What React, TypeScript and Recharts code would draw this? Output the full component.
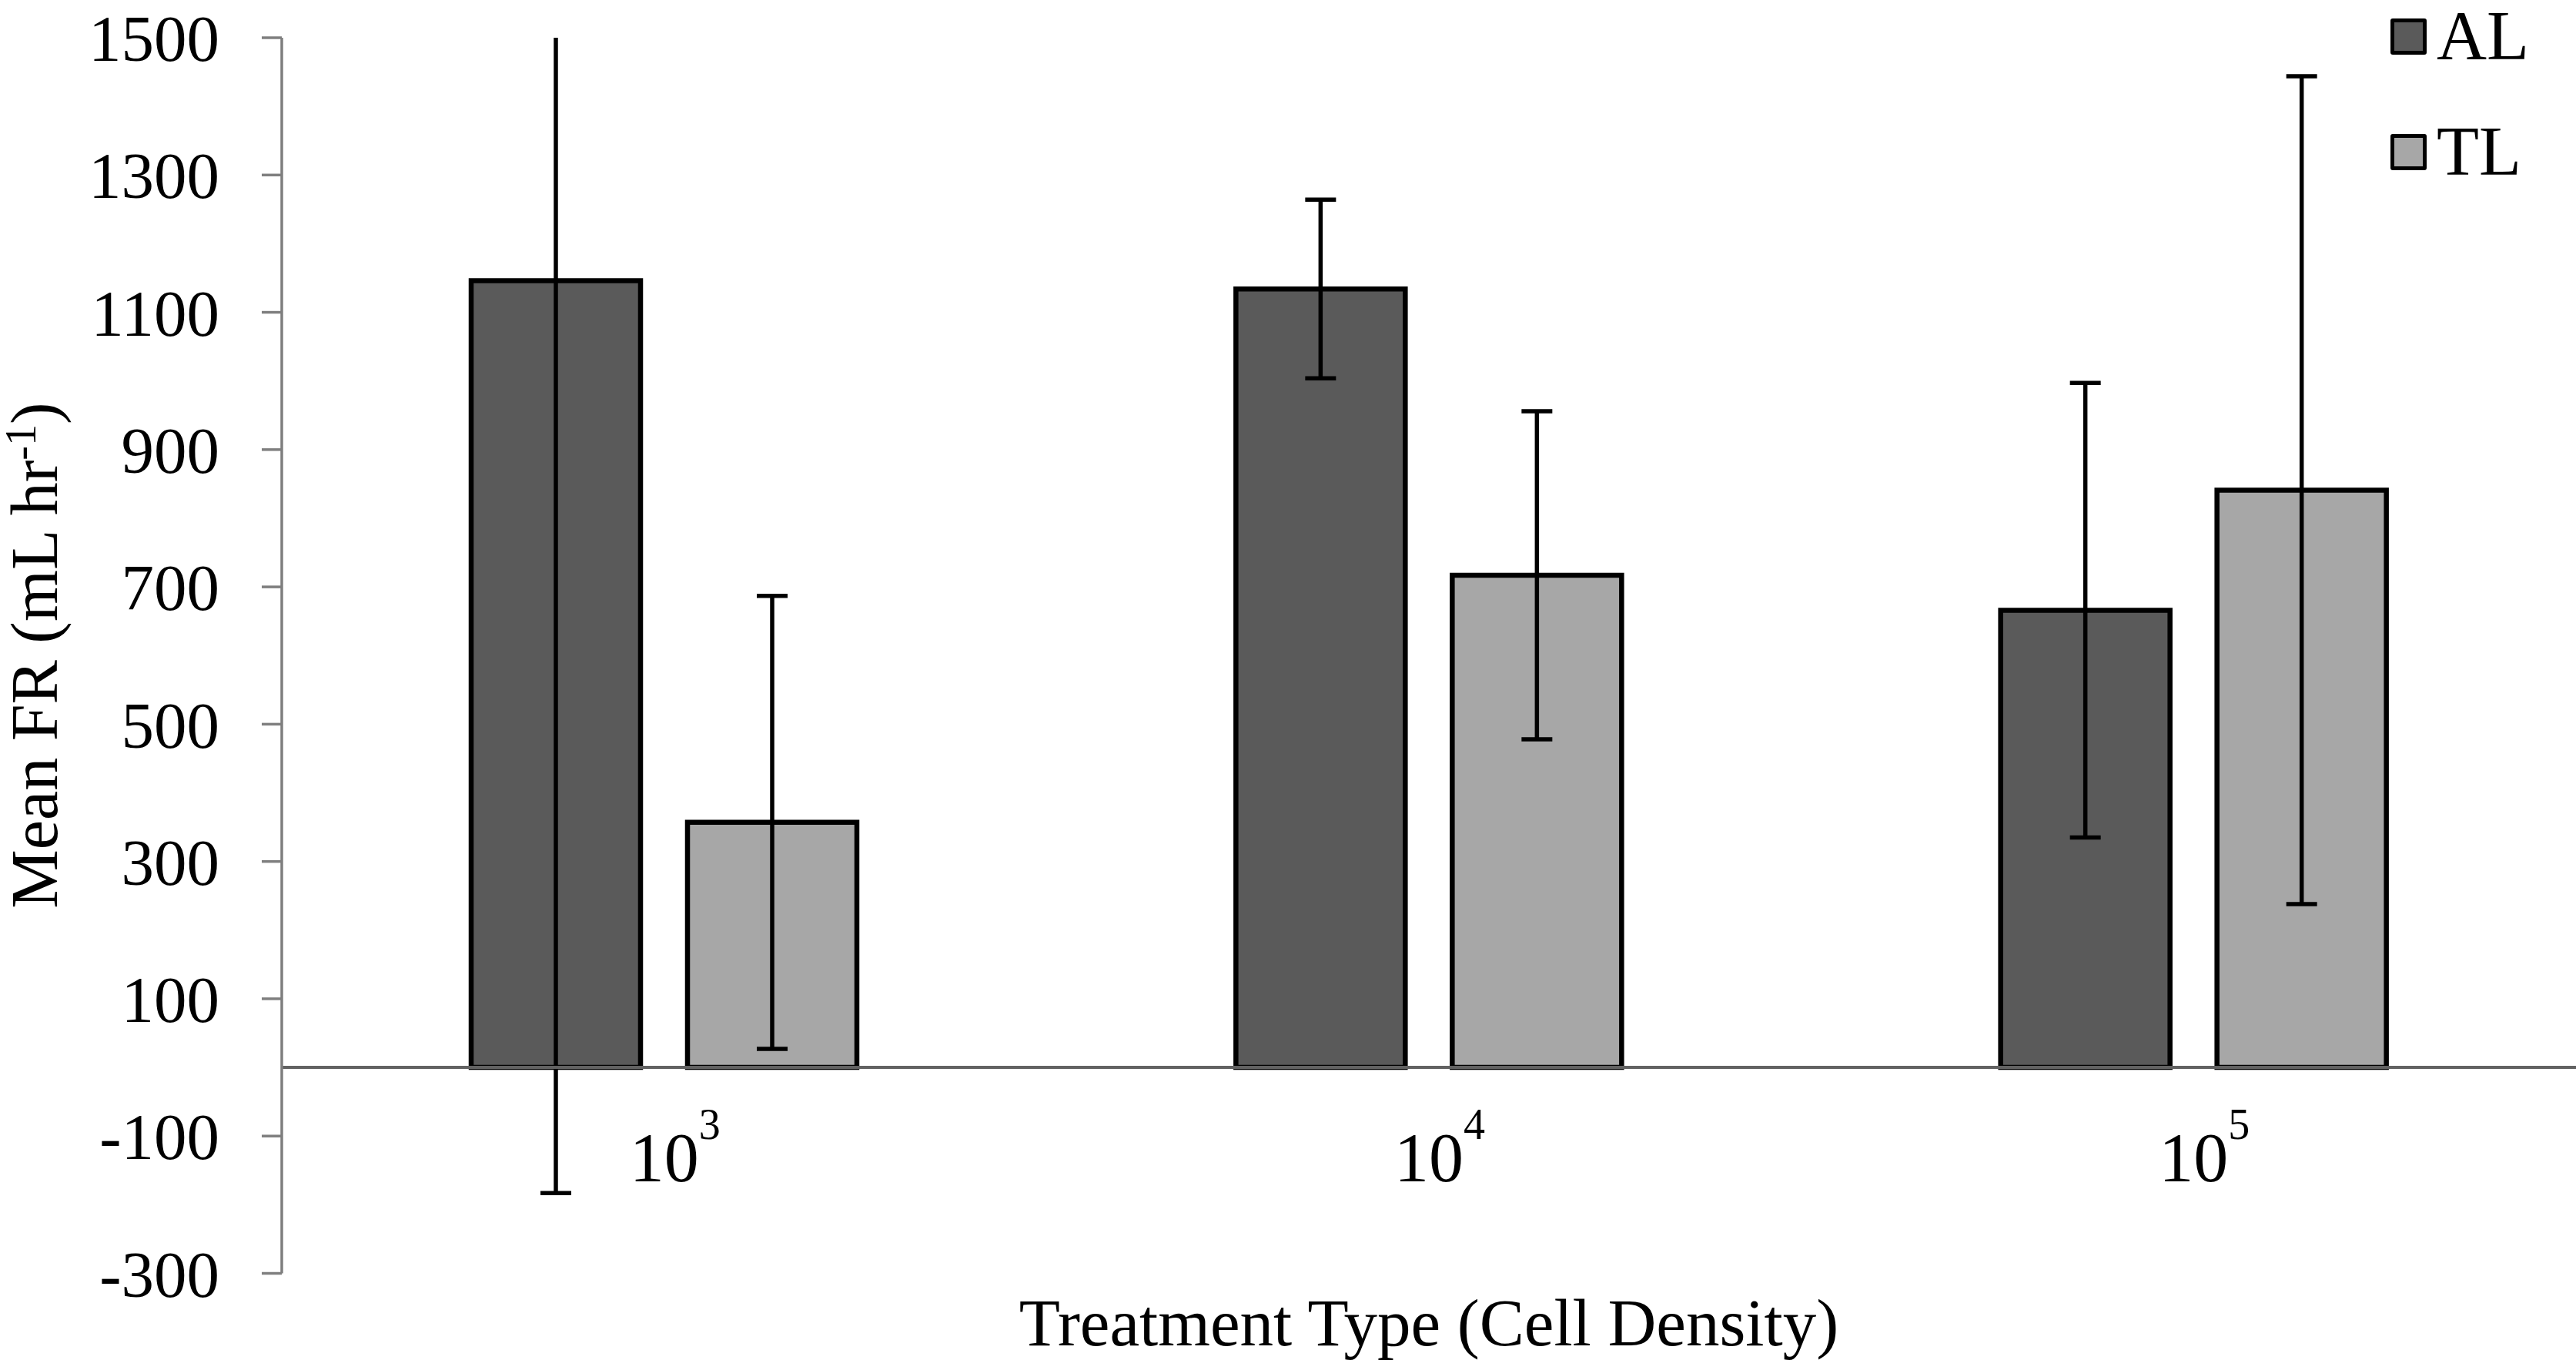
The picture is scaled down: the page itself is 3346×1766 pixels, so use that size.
import React from 'react';
import { BarChart, Bar, XAxis, YAxis, ErrorBar, ReferenceLine, Legend } from 'recharts';

// values (mL hr-1)
const exponents = ['3', '4', '5'];
const alMean = [1146, 1134, 666];
const alErr = [1329, 130, 331];
const tlMean = [357, 717, 841];
const tlErr = [330, 239, 603];
const yTicks = [-300, -100, 100, 300, 500, 700, 900, 1100, 1300, 1500];

const data = exponents.map((e, i) => ({
  exp: e,
  AL: alMean[i],
  alErr: alErr[i],
  TL: tlMean[i],
  tlErr: tlErr[i],
}));

const FONT = '"Liberation Serif", "Times New Roman", serif';
const AXIS_GREY = '#7f7f7f';

function CategoryTick({ x, y, payload }: any) {
  return (
    <g transform={`translate(${x},${y})`} fontFamily={FONT}>
      <text x={0} y={-120} textAnchor="middle" fontSize={90} fill="#000">
        10
      </text>
      <text x={45} y={-175} textAnchor="start" fontSize={56} fill="#000">
        {payload.value}
      </text>
    </g>
  );
}

function XTitle({ viewBox }: any) {
  const vb = viewBox || { x: 365, y: 1653.5, width: 2981 };
  return (
    <text
      x={vb.x + vb.width / 2}
      y={vb.y + 93}
      textAnchor="middle"
      fontSize={87}
      fontFamily={FONT}
      fill="#000"
    >
      Treatment Type (Cell Density)
    </text>
  );
}

function YTitle() {
  return (
    <text
      transform="translate(74,851) rotate(-90)"
      textAnchor="middle"
      fontSize={86}
      fontFamily={FONT}
      fill="#000"
    >
      Mean FR (mL hr
      <tspan dy={-28} fontSize={56}>-1</tspan>
      <tspan dy={28}>)</tspan>
    </text>
  );
}

function LegendBox({ payload }: any) {
  return (
    <div style={{ fontFamily: FONT, color: '#000' }}>
      {(payload || []).map((p: any) => (
        <div
          key={p.value}
          style={{ display: 'flex', alignItems: 'center', height: 100, marginBottom: 50 }}
        >
          <span
            style={{
              display: 'inline-block',
              boxSizing: 'border-box',
              width: 47,
              height: 47,
              border: '5px solid #000',
              borderRadius: 3,
              background: p.color,
            }}
          />
          <span style={{ marginLeft: 13, fontSize: 90, lineHeight: 1 }}>{p.value}</span>
        </div>
      ))}
    </div>
  );
}

export default function App() {
  return (
    <div style={{ width: 3346, height: 1766, background: '#fff' }}>
      <style>{'body{margin:0;background:#fff}'}</style>
      <BarChart
        width={3346}
        height={1766}
        data={data}
        margin={{ top: 49, right: 0, bottom: 0, left: 0 }}
        barGap={61}
      >
        <XAxis
          dataKey="exp"
          axisLine={false}
          tickLine={false}
          tickSize={0}
          tickMargin={0}
          interval={0}
          height={112.5}
          tick={<CategoryTick />}
          label={<XTitle />}
        />
        <YAxis
          domain={[-300, 1500]}
          ticks={yTicks}
          allowDataOverflow
          interval={0}
          width={366}
          tickSize={26}
          tickMargin={55}
          axisLine={{ stroke: AXIS_GREY, strokeWidth: 3.5 }}
          tickLine={{ stroke: AXIS_GREY, strokeWidth: 3.5 }}
          tick={{ fontSize: 85, fill: '#000', fontFamily: FONT }}
          label={<YTitle />}
        />
        <Legend
          layout="vertical"
          align="center"
          verticalAlign="middle"
          content={<LegendBox />}
          wrapperStyle={{ left: 3105, top: -3, width: 240 }}
        />
        <Bar
          id="al"
          dataKey="AL"
          name="AL"
          fill="#5a5a5a"
          stroke="#000"
          strokeWidth={6.5}
          barSize={220}
          isAnimationActive={false}
        >
          <ErrorBar
            dataKey="alErr"
            width={20}
            stroke="#000"
            strokeWidth={5.5}
            clipPath="url(#clipPath-al)"
            isAnimationActive={false}
          />
        </Bar>
        <Bar
          id="tl"
          dataKey="TL"
          name="TL"
          fill="#a7a7a7"
          stroke="#000"
          strokeWidth={6.5}
          barSize={220}
          isAnimationActive={false}
        >
          <ErrorBar
            dataKey="tlErr"
            width={20}
            stroke="#000"
            strokeWidth={5.5}
            clipPath="url(#clipPath-tl)"
            isAnimationActive={false}
          />
        </Bar>
        <ReferenceLine y={0} stroke="#626262" strokeWidth={4} />
      </BarChart>
    </div>
  );
}
